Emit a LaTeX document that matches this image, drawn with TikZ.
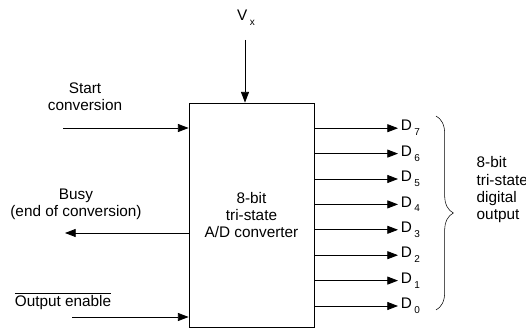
\documentclass[tikz,border=0pt]{standalone}
\usepackage{fontspec}
\setmainfont{Liberation Sans}
\usetikzlibrary{arrows.meta,decorations.pathreplacing}

\newcommand{\lowsub}[2]{#1\kern1.8pt\raisebox{-0.6ex}{\fontsize{7.5}{8}\selectfont #2}}

\begin{document}
\begin{tikzpicture}[
    x=0.75pt, y=-0.75pt,
    >={Triangle[length=8pt, width=6pt]},
    line/.style  = {line width=0.6pt},
    block/.style = {draw, line width=0.6pt, minimum width=93.75pt, minimum height=168pt,
                    inner sep=0pt},
    lbl/.style   = {align=center, font=\fontsize{11.5}{13}\selectfont},
    pin/.style   = {anchor=west, inner sep=2pt, text height=6pt, text depth=2pt,
                    font=\fontsize{11.5}{13}\selectfont}
]
\useasboundingbox (0,0) rectangle (526,328);

% converter block
\node[block, lbl] (adc) at (251.5,215) {8-bit\\tri-state\\A/D converter};

% reference voltage on top
\node[lbl] (vx) at (246,18) {\lowsub{V}{x}};
\coordinate (vxin) at (245,40);
\draw[->, line] (vxin) -- (vxin |- adc.north);

% control inputs and busy output (left side)
\node[lbl] (start) at (85,97) {Start\\conversion};
\coordinate (scin) at (63,128);
\draw[->, line] (scin) -- (scin -| adc.west);

\node[lbl] (busy) at (76,204) {Busy\\(end of conversion)};
\coordinate (busyout) at (65,233);
\draw[->, line] (busyout -| adc.west) -- (busyout);

\node[lbl] (oe) at (63,301) {$\overline{\mbox{Output enable}}$};
\coordinate (oein) at (72,317);
\draw[->, line] (oein) -- (oein -| adc.west);

% data outputs D0..D7
\foreach \k in {0,...,7}{
    \node[pin] (d\k) at (398, 306-25.4*\k) {\lowsub{D}{\k}};
    \draw[->, line] (adc.east |- d\k.west) -- (d\k.west);
}

% output bus brace
\coordinate (btop) at (436,116);
\coordinate (bbot) at (436,310);
\draw[thin, decorate, decoration={brace, amplitude=13pt}] (btop) -- (bbot);
\node[lbl, align=left, anchor=west] (bus) at (472,190) {8-bit\\tri-state\\digital\\output};

\end{tikzpicture}
\end{document}
